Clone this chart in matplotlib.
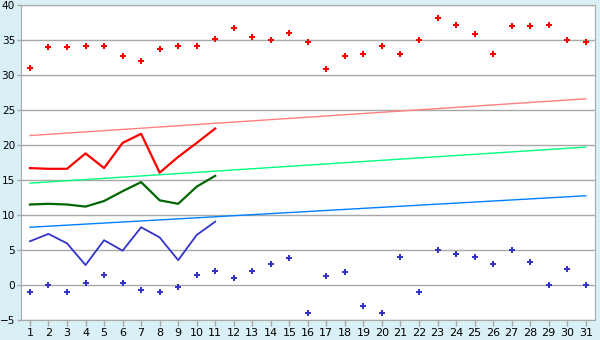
import matplotlib
matplotlib.use("Agg")
import matplotlib.pyplot as plt

days = list(range(1, 32))

# scattered daily values
high_pts = [31, 34, 34, 34.2, 34.2, 32.7, 32, 33.7, 34.2, 34.2,
            35.2, 36.7, 35.4, 35, 36, 34.7, 30.8, 32.7, 33, 34.2,
            33, 35, 38.1, 37.1, 35.8, 33, 37, 37, 37.2, 35, 34.7]
low_pts = [-1, 0, -1, 0.25, 1.5, 0.25, -0.75, -1, -0.33, 1.5,
           2, 1, 2, 3, 3.8, -4, 1.25, 1.8, -3, -4,
           4, -1, 5, 4.4, 4, 3, 5, 3.25, 0, 2.25, 0]

# lines for the first 11 days
line_days = days[:11]
red_line = [16.7, 16.6, 16.6, 18.8, 16.7, 20.3, 21.6, 16.05, 18.3, 20.3, 22.35]
green_line = [11.5, 11.6, 11.5, 11.2, 12.0, 13.4, 14.7, 12.1, 11.6, 14.05, 15.6]
blue_line = [6.25, 7.3, 5.95, 2.85, 6.4, 4.9, 8.25, 6.8, 3.55, 7.15, 9.05]

# trend lines (start value at day 1, end value at day 31)
trend_ends = [1, 31]
red_trend = [21.35, 26.6]
green_trend = [14.55, 19.7]
blue_trend = [8.25, 12.75]

bg = "#d9f0f6"
grey = "#a8a8a8"

fig = plt.figure(figsize=(6, 3.4), dpi=100, facecolor=bg)
ax = fig.add_axes([0.0345, 0.0588, 0.9572, 0.9265])
ax.set_facecolor("white")

ax.plot(trend_ends, red_trend, color="#ff8080", lw=1.0)
ax.plot(trend_ends, green_trend, color="#00ff80", lw=1.0)
ax.plot(trend_ends, blue_trend, color="#0080ff", lw=1.0)

ax.plot(line_days, red_line, color="#ff0000", lw=1.6)
ax.plot(line_days, green_line, color="#006600", lw=1.6)
ax.plot(line_days, blue_line, color="#3333cc", lw=1.3)

ax.plot(days, high_pts, ls="none", marker="P", ms=4.5, color="#ff0000", mew=0)
ax.plot(days, low_pts, ls="none", marker="P", ms=4.5, color="#3333cc", mew=0)

ax.set_xlim(0.5, 31.5)
ax.set_ylim(-5, 40)
ax.set_xticks(days)
ax.set_yticks(range(-5, 41, 5))
ax.yaxis.grid(True, color=grey, lw=1)
ax.set_axisbelow(True)
for s in ax.spines.values():
    s.set_color(grey)
ax.tick_params(colors=grey, labelcolor="black", labelsize=8, width=1)
ax.tick_params(axis="x", length=4, pad=2)
ax.tick_params(axis="y", length=3, pad=1)
for lbl in ax.get_yticklabels():
    lbl.set_fontsize(7.6)

fig.savefig("out.png", dpi=100, facecolor=bg)
